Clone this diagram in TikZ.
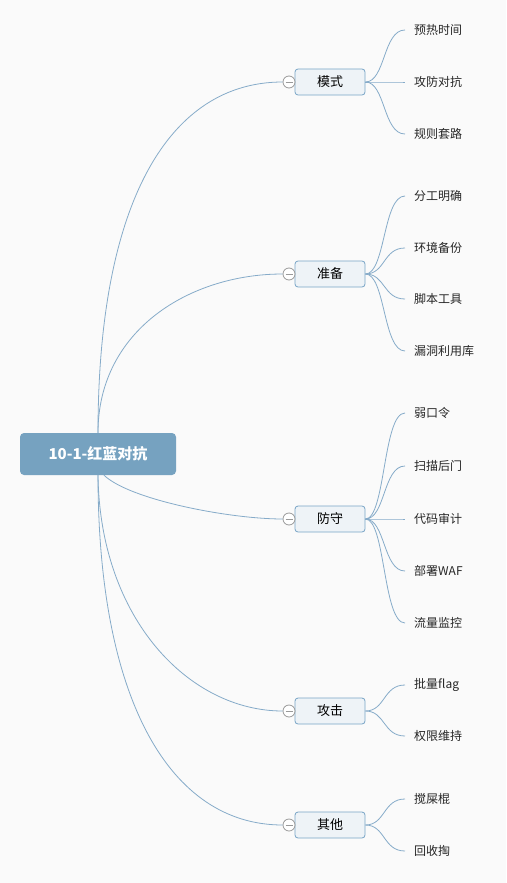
\documentclass[tikz,border=0pt]{standalone}
\usepackage{fontspec}
\setmainfont{Noto Sans CJK SC}
\definecolor{bgc}{HTML}{FAFAFA}
\definecolor{linec}{HTML}{86ABC9}
\definecolor{rootc}{HTML}{76A2C0}
\definecolor{topicc}{HTML}{EEF3F7}
\definecolor{topicb}{HTML}{78A4C6}
\tikzset{
  root/.style={fill=rootc,rounded corners=4pt,minimum width=156pt,minimum height=42pt,
    text=white,font=\fontsize{15}{18}\selectfont\bfseries},
  topic/.style={draw=topicb,fill=topicc,rounded corners=3pt,minimum width=70pt,minimum height=26pt,
    font=\fontsize{13}{16}\selectfont,line width=0.8pt},
  fold/.style={circle,draw=gray!80,fill=white,minimum size=12pt,inner sep=0pt,line width=0.8pt},
  leaf/.style={anchor=west,inner xsep=9pt,font=\fontsize{12}{14}\selectfont,text=black!85},
  link/.style={draw=linec,line width=0.8pt}
}
\begin{document}
\begin{tikzpicture}[x=1pt,y=-1pt]
  \fill[bgc] (0,0) rectangle (506,883);
  \useasboundingbox (0,0) rectangle (506,883);

  % central topic
  \node[root] (root) at (98,454) {10-1-红蓝对抗};

  % main topics with fold buttons
  \foreach \name/\txt/\y in {ms/模式/82, zb/准备/274, fs/防守/519, gj/攻击/711, qt/其他/825}{
    \node[topic] (\name) at (330,\y) {\txt};
    \node[fold] (\name c) at (289,\y) {};
    \draw[gray!80,line width=0.8pt] ([xshift=-3.5pt]\name c.center) -- ([xshift=3.5pt]\name c.center);
  }

  % branches from the root
  \draw[link] (root.north) .. controls (98,200) and (170,82) .. (msc.west);
  \draw[link] (root.north) .. controls (98,330) and (190,274) .. (zbc.west);
  \draw[link] ([xshift=6pt]root.south) .. controls (130,500) and (230,519) .. (fsc.west);
  \draw[link] (root.south) .. controls (100,620) and (190,711) .. (gjc.west);
  \draw[link] (root.south) .. controls (98,700) and (170,825) .. (qtc.west);

  % leaves
  \foreach \i/\txt/\y in {1/预热时间/30, 2/攻防对抗/82, 3/规则套路/134}{
    \node[leaf] (ms\i) at (405,\y) {\txt};
    \draw[link] (ms.east) .. controls +(20,0) and +(-22,0) .. (ms\i.west);
  }
  \foreach \i/\txt/\y in {1/分工明确/196, 2/环境备份/248, 3/脚本工具/299, 4/漏洞利用库/351}{
    \node[leaf] (zb\i) at (405,\y) {\txt};
    \draw[link] (zb.east) .. controls +(20,0) and +(-22,0) .. (zb\i.west);
  }
  \foreach \i/\txt/\y in {1/弱口令/413, 2/扫描后门/466, 3/代码审计/519, 4/部署WAF/571, 5/流量监控/623}{
    \node[leaf] (fs\i) at (405,\y) {\txt};
    \draw[link] (fs.east) .. controls +(20,0) and +(-22,0) .. (fs\i.west);
  }
  \foreach \i/\txt/\y in {1/批量flag/685, 2/权限维持/736}{
    \node[leaf] (gj\i) at (405,\y) {\txt};
    \draw[link] (gj.east) .. controls +(20,0) and +(-22,0) .. (gj\i.west);
  }
  \foreach \i/\txt/\y in {1/搅屎棍/799, 2/回收掏/851}{
    \node[leaf] (qt\i) at (405,\y) {\txt};
    \draw[link] (qt.east) .. controls +(20,0) and +(-22,0) .. (qt\i.west);
  }
\end{tikzpicture}
\end{document}
